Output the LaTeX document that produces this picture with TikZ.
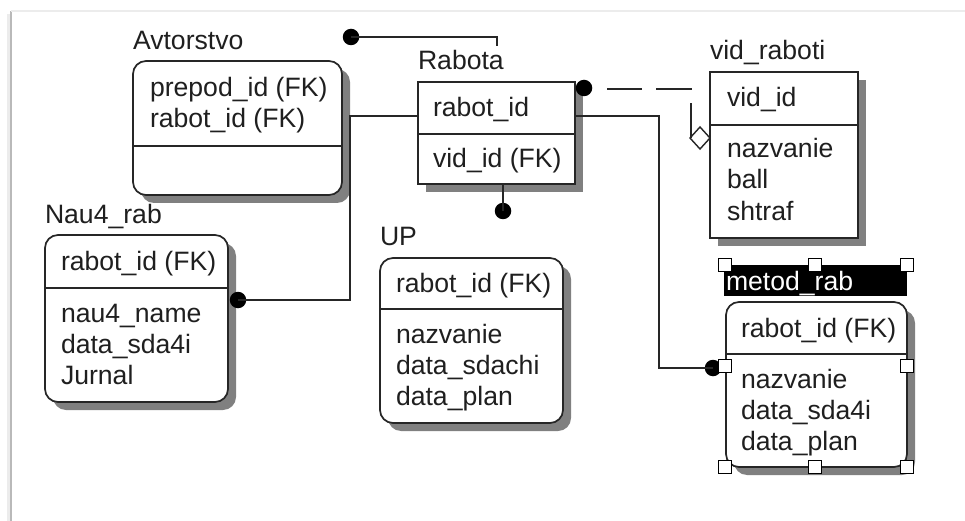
\documentclass[tikz,border=0pt]{standalone}
\usepackage{fontspec}
\setmainfont{Liberation Sans}
\usetikzlibrary{shadows,shapes.geometric}
\begin{document}
\begin{tikzpicture}[x=1pt,y=-1pt,
  every node/.style={inner sep=0pt, outer sep=0pt},
  tbl/.style={draw=black!85, line width=1.7pt, fill=white, anchor=north west,
    drop shadow={shadow xshift=8pt, shadow yshift=-8pt, fill=black!50, opacity=1}},
  rtbl/.style={tbl, rounded corners=13pt},
  divl/.style={draw=black!85, line width=1.7pt},
  txt/.style={anchor=base west, font=\fontsize{26.6}{31}\selectfont, text=black!88},
  dot/.style={circle, fill=black, minimum size=16.5pt},
  handle/.style={draw=black, fill=white, line width=1.3pt, minimum size=12.5pt},
  conn/.style={line width=1.6pt, draw=black!85},
]
\useasboundingbox (0,0) rectangle (965,521);
% frame
\draw[gray!15, line width=3pt] (8,14) -- (8,521);
\draw[gray!55, line width=2pt] (11,11) -- (11,521);
\draw[gray!15, line width=2pt] (11,11) -- (965,11);

% Avtorstvo
\node[txt] (tavt) at (133,50) {Avtorstvo};
\node[rtbl, minimum width=209pt, minimum height=134pt] (avt) at (133,61) {};
\draw[divl] (133,146) -- (342,146);
\node[txt] at (150,97) {prepod\_id (FK)};
\node[txt] at (150,128) {rabot\_id (FK)};

% Rabota
\node[txt] (trab) at (418,70) {Rabota};
\node[tbl, minimum width=157pt, minimum height=102pt] (rab) at (418,82) {};
\draw[divl] (418,134) -- (575,134);
\node[txt] at (433,117) {rabot\_id};
\node[txt] at (433,168) {vid\_id (FK)};

% vid_raboti
\node[txt] (tvid) at (710,60) {vid\_raboti};
\node[tbl, minimum width=148pt, minimum height=166pt] (vid) at (710,72) {};
\draw[divl] (710,125) -- (858,125);
\node[txt] at (727,107) {vid\_id};
\node[txt] at (727,158) {nazvanie};
\node[txt] at (727,189) {ball};
\node[txt] at (727,220) {shtraf};

% Nau4_rab
\node[txt] (tnau) at (45,223) {Nau4\_rab};
\node[rtbl, minimum width=183pt, minimum height=167pt] (nau) at (45,235) {};
\draw[divl] (45,288) -- (228,288);
\node[txt] at (61,270) {rabot\_id (FK)};
\node[txt] at (61,322) {nau4\_name};
\node[txt] at (61,353) {data\_sda4i};
\node[txt] at (61,384) {Jurnal};

% UP
\node[txt] (tup) at (380,245) {UP};
\node[rtbl, minimum width=183pt, minimum height=165pt] (up) at (380,258) {};
\draw[divl] (380,309) -- (563,309);
\node[txt] at (396,292) {rabot\_id (FK)};
\node[txt] at (396,343) {nazvanie};
\node[txt] at (396,374) {data\_sdachi};
\node[txt] at (396,405) {data\_plan};

% metod_rab
\node[fill=black, minimum width=183pt, minimum height=31pt, anchor=north west] (metlbl) at (724,265) {};
\node[txt, text=white] (tmet) at (726,290) {metod\_rab};
\node[rtbl, minimum width=181pt, minimum height=165pt] (met) at (726,302) {};
\draw[divl] (726,354) -- (907,354);
\node[txt] at (741,337) {rabot\_id (FK)};
\node[txt] at (741,388) {nazvanie};
\node[txt] at (741,419) {data\_sda4i};
\node[txt] at (741,450) {data\_plan};

% connectors
\node[dot] (d1) at (351,37) {};
\coordinate (k1) at (497,37);
\coordinate (k1e) at (497,46);
\draw[conn] (d1.center) -- (k1) -- (k1e);

\coordinate (j1) at (350,116);
\coordinate (j2) at (350,300);
\node[dot] (d2) at (238,300) {};
\draw[conn] (rab.west |- j1) -- (j1) -- (j2) -- (d2.center);

\node[dot] (d3) at (503,211) {};
\draw[conn] (rab.south -| d3) -- (d3.center);

\node[dot] (d4) at (584,88) {};
\node[diamond, draw=black!85, fill=white, line width=1.4pt, minimum width=20pt, minimum height=22pt] (dm) at (700,138) {};
\coordinate (k4) at (691,89);
\draw[conn, dash pattern=on 0pt off 15pt on 35pt off 14pt on 35pt off 14pt on 40pt off 20pt] (d4.east |- k4) -- (k4) -- (k4 |- dm.west);

\coordinate (k5a) at (659,116);
\coordinate (k5b) at (659,368);
\node[dot] (d5) at (713,368) {};
\draw[conn] (rab.east |- k5a) -- (k5a) -- (k5b) -- (d5.center);

% selection handles
\foreach \hx/\hy/\hn in {725/265/h1,815/265/h2,907/265/h3,725/366/h4,907/366/h5,725/467/h6,815/467/h7,907/467/h8}
  \node[handle] (\hn) at (\hx,\hy) {};
\end{tikzpicture}
\end{document}
